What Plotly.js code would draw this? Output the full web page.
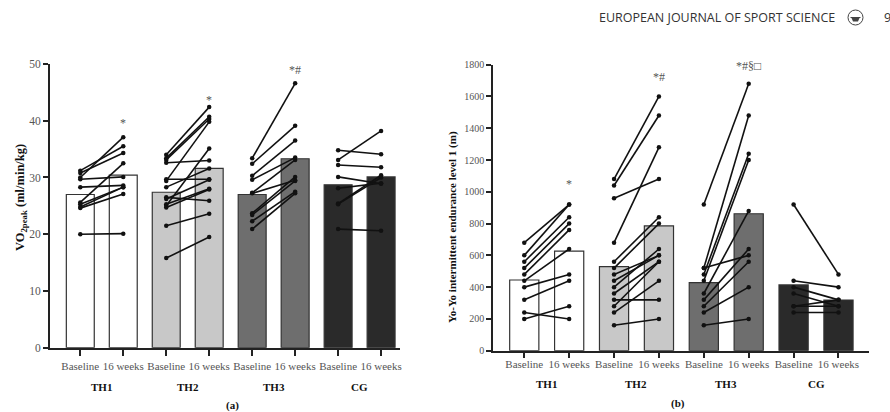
<!DOCTYPE html>
<html><head><meta charset="utf-8">
<script src="https://cdn.plot.ly/plotly-3.0.1.min.js"></script>
<style>html,body{margin:0;padding:0;background:#fff}#c{width:890px;height:412px}</style>
</head><body><div id="c"></div>
<script>
// ---------- data ----------
const groups = ['TH1', 'TH2', 'TH3', 'CG'];
const times = ['Baseline', '16 weeks'];
const groupColors = ['#ffffff', '#c8c8c8', '#6e6e6e', '#2a2a2a'];

// Panel (a): VO2peak (ml/min/kg) group means (bars)
const vo2Mean = [27.0, 30.4, 27.4, 31.6, 27.0, 33.3, 28.7, 30.1];
// individual subjects (baseline -> 16 weeks)
const vo2TH1Base = [31.2, 30.8, 30.0, 29.7, 28.3, 25.6, 25.3, 24.8, 24.6, 20.0];
const vo2TH1Post = [35.5, 34.3, 37.1, 30.1, 28.6, 32.5, 28.3, 28.3, 27.1, 20.1];
const vo2TH2Base = [34.0, 33.4, 33.1, 32.6, 29.7, 29.4, 28.3, 26.5, 26.2, 25.3, 25.0, 24.7, 21.5, 15.8];
const vo2TH2Post = [42.4, 40.7, 40.3, 33.0, 29.7, 39.8, 31.6, 25.9, 29.6, 28.0, 35.1, 27.9, 23.6, 19.5];
const vo2TH3Base = [33.4, 32.4, 30.3, 29.6, 27.3, 27.2, 23.7, 23.4, 22.3, 20.9];
const vo2TH3Post = [46.6, 39.1, 36.5, 33.5, 33.1, 29.5, 30.1, 29.4, 27.5, 27.2];
const vo2CGBase = [34.8, 33.1, 32.2, 30.1, 28.1, 25.4, 25.3, 20.9];
const vo2CGPost = [34.1, 38.2, 31.8, 28.9, 29.0, 30.4, 30.0, 20.6];

// Panel (b): Yo-Yo IE1 (m) group means (bars)
const yoyoMean = [445, 627, 529, 785, 428, 862, 414, 319];
const yoyoTH1Base = [680, 600, 560, 520, 480, 440, 400, 320, 240, 200];
const yoyoTH1Post = [920, 920, 840, 800, 760, 640, 480, 440, 200, 280];
const yoyoTH2Base = [1080, 1040, 960, 680, 560, 520, 480, 440, 400, 360, 320, 280, 240, 160];
const yoyoTH2Post = [1600, 1480, 1080, 1280, 840, 800, 600, 600, 640, 560, 320, 560, 440, 200];
const yoyoTH3Base = [920, 520, 520, 480, 440, 360, 320, 280, 240, 160];
const yoyoTH3Post = [1680, 1480, 600, 1240, 1200, 880, 640, 560, 400, 200];
const yoyoCGBase = [920, 440, 400, 360, 280, 280, 240];
const yoyoCGPost = [480, 400, 320, 280, 320, 280, 240];

const sigA = ['*', '*', '*#', ''];
const sigB = ['*', '*#', '*#§□', ''];

// ---------- build ----------
const cats = [];
const tickText = [];
groups.forEach(g => times.forEach(t => { cats.push(g + ' ' + t); tickText.push(t); }));
const barColors = [];
groupColors.forEach(c => { barColors.push(c, c); });

function segs(base, post, g, xa, ya) {
  const x = [], y = [];
  base.forEach((b, i) => { x.push(g + ' Baseline', g + ' 16 weeks', null); y.push(b, post[i], null); });
  return {type: 'scatter', mode: 'lines+markers', x, y, xaxis: xa, yaxis: ya,
    line: {color: '#111', width: 1.6}, marker: {color: '#111', size: 4.5},
    hoverinfo: 'skip', showlegend: false, connectgaps: false};
}
const dataA = [[vo2TH1Base, vo2TH1Post], [vo2TH2Base, vo2TH2Post], [vo2TH3Base, vo2TH3Post], [vo2CGBase, vo2CGPost]];
const dataB = [[yoyoTH1Base, yoyoTH1Post], [yoyoTH2Base, yoyoTH2Post], [yoyoTH3Base, yoyoTH3Post], [yoyoCGBase, yoyoCGPost]];

const traces = [
  {type: 'bar', x: cats, y: vo2Mean, xaxis: 'x', yaxis: 'y', width: 0.65,
   marker: {color: barColors, line: {color: '#333', width: 1.2}}, showlegend: false, hoverinfo: 'skip'},
  {type: 'bar', x: cats, y: yoyoMean, xaxis: 'x2', yaxis: 'y2', width: 0.65,
   marker: {color: barColors, line: {color: '#333', width: 1.2}}, showlegend: false, hoverinfo: 'skip'}
];
groups.forEach((g, i) => traces.push(segs(dataA[i][0], dataA[i][1], g, 'x', 'y')));
groups.forEach((g, i) => traces.push(segs(dataB[i][0], dataB[i][1], g, 'x2', 'y2')));

const W = 890, H = 412;
const px = v => v / W, py = v => 1 - v / H;
const serif = 'Liberation Serif, Times New Roman, serif';

const xCommon = {type: 'category', categoryorder: 'array', categoryarray: cats,
  tickvals: cats, ticktext: tickText, showgrid: false, zeroline: false,
  showline: true, linecolor: '#222', linewidth: 2, ticks: 'outside', ticklen: 6, tickwidth: 2,
  tickcolor: '#222', tickfont: {family: serif, size: 11, color: '#555'},
  fixedrange: true};
const yCommon = {showgrid: false, zeroline: false, showline: true, linecolor: '#222', linewidth: 2,
  ticks: 'outside', ticklen: 5, tickwidth: 2, tickcolor: '#222',
  tickfont: {family: serif, size: 10, color: '#555'}, fixedrange: true};

const annotations = [];
function ann(o) { annotations.push(Object.assign({showarrow: false, xanchor: 'center', yanchor: 'middle'}, o)); }
// significance marks
const sigYA = [39.6, 43.6, 49.0];
const sigYB = [1050, 1720, 1790];
sigA.forEach((s, i) => { if (s) ann({xref: 'x', yref: 'y', x: groups[i] + ' 16 weeks', y: sigYA[i], text: s, font: {family: serif, size: 12, color: '#555'}}); });
sigB.forEach((s, i) => { if (s) ann({xref: 'x2', yref: 'y2', x: groups[i] + ' 16 weeks', y: sigYB[i], text: s, font: {family: serif, size: 12, color: '#555'}}); });
// group labels
groups.forEach((g, i) => {
  ann({xref: 'x', yref: 'paper', x: 2 * i + 0.5, y: py(387), text: '<b>' + g + '</b>', font: {family: serif, size: 11, color: '#111'}});
  ann({xref: 'x2', yref: 'paper', x: 2 * i + 0.5, y: py(384), text: '<b>' + g + '</b>', font: {family: serif, size: 11, color: '#111'}});
});
ann({xref: 'paper', yref: 'paper', x: px(232), y: py(405), text: '<b>(a)</b>', font: {family: serif, size: 11, color: '#111'}});
ann({xref: 'paper', yref: 'paper', x: px(678), y: py(403), text: '<b>(b)</b>', font: {family: serif, size: 11, color: '#111'}});
// axis titles
ann({xref: 'paper', yref: 'paper', x: px(21), y: py(198), textangle: -90, text: '<b>VO<sub>2peak</sub> (ml/min/kg)</b>', font: {family: serif, size: 12.5, color: '#111'}});
ann({xref: 'paper', yref: 'paper', x: px(452), y: py(227), textangle: -90, text: '<b>Yo-Yo intermittent endurance level 1 (m)</b>', font: {family: serif, size: 11, color: '#111'}});
// header
ann({xref: 'paper', yref: 'paper', x: px(597), y: py(18), xanchor: 'left', text: 'EUROPEAN JOURNAL OF SPORT SCIENCE', font: {family: 'Open Sans, sans-serif', size: 12.5, color: '#333'}});
ann({xref: 'paper', yref: 'paper', x: px(882), y: py(18), xanchor: 'left', text: '9', font: {family: 'Open Sans, sans-serif', size: 12.5, color: '#333'}});

const shapes = [
  {type: 'circle', xref: 'paper', yref: 'paper', x0: px(848), x1: px(863), y0: py(25), y1: py(10), line: {color: '#444', width: 1}},
  {type: 'line', xref: 'paper', yref: 'paper', x0: px(850.5), x1: px(860.5), y0: py(17.5), y1: py(17.5), line: {color: '#444', width: 1}},
  {type: 'path', xref: 'paper', yref: 'paper', path: `M ${px(851.5)} ${py(18)} L ${px(859.5)} ${py(18)} L ${px(858)} ${py(21.5)} L ${px(853)} ${py(21.5)} Z`, fillcolor: '#444', line: {width: 0}}
];

const layout = {
  width: W, height: H, margin: {l: 0, r: 0, t: 0, b: 0}, paper_bgcolor: '#fff', plot_bgcolor: 'rgba(0,0,0,0)',
  bargap: 0.35, showlegend: false,
  xaxis: Object.assign({}, xCommon, {domain: [px(50), px(400)], range: [-0.705, 7.44], anchor: 'y', ticklabelstandoff: 1}),
  yaxis: Object.assign({}, yCommon, {domain: [py(347.7), py(64)], range: [0, 50], tickvals: [0, 10, 20, 30, 40, 50], anchor: 'x', tickfont: {family: serif, size: 11.5, color: '#555'}}),
  xaxis2: Object.assign({}, xCommon, {domain: [px(493.3), px(869)], range: [-0.69, 7.68], anchor: 'y2', ticklen: 5, ticklabelstandoff: -3}),
  yaxis2: Object.assign({}, yCommon, {domain: [py(350.7), py(64.7)], range: [0, 1800], tickvals: [0, 200, 400, 600, 800, 1000, 1200, 1400, 1600, 1800], anchor: 'x2'}),
  annotations, shapes
};
Plotly.newPlot('c', traces, layout, {staticPlot: true, displayModeBar: false});
</script></body></html>
